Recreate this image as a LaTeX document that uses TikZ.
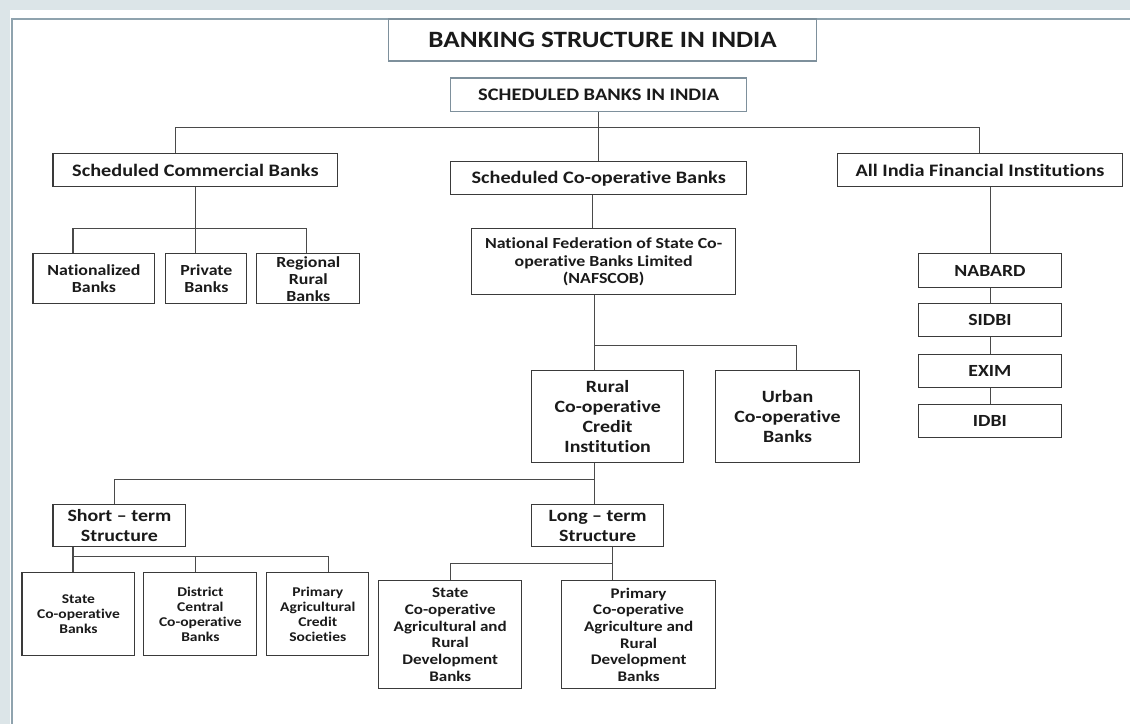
\documentclass[tikz,border=0pt]{standalone}
\usepackage{fontspec}
\setmainfont{Carlito}[FakeStretch=1.16, Ligatures=NoCommon]
\definecolor{bgc}{HTML}{DCE5E8}
\definecolor{framec}{HTML}{8FA3AE}
\definecolor{titlec}{HTML}{7E909C}
\definecolor{boxc}{HTML}{3A3A3A}
\definecolor{linec}{HTML}{4A4A4A}
\definecolor{txt}{HTML}{1A1A1A}
\newcommand\fsz[2]{\fontsize{#1}{#2}\selectfont}
\begin{document}
\begin{tikzpicture}[x=1pt,y=-1pt,
  box/.style={draw=boxc, line width=1.1pt, fill=white, inner sep=0pt, align=center, text=txt},
  ln/.style={draw=linec, line width=1.1pt},
  ftitle/.style={font=\bfseries\fsz{23.4}{27}},
  fmain/.style={font=\bfseries\fsz{17.5}{21}},
  fsbi/.style={font=\bfseries\fsz{17.6}{20}},
  fnaf/.style={font=\bfseries\fsz{15.4}{17.7}},
  fmid/.style={font=\bfseries\fsz{15.4}{17}},
  fbig/.style={font=\bfseries\fsz{17.2}{20}},
  fsmall/.style={font=\bfseries\fsz{13.4}{15}},
  fardb/.style={font=\bfseries\fsz{14.7}{16.7}},
  fright/.style={font=\bfseries\fsz{17}{20}}
]
\fill[bgc] (0,0) rectangle (1131,724);
\fill[white] (10,10) rectangle (1131,724);
\draw[framec, line width=1.3pt] (12,724) -- (12,19) -- (1131,19);
\useasboundingbox (0,0) rectangle (1131,724);

% nodes
\node[box, draw=titlec, ftitle, minimum width=428pt, minimum height=42pt] (title) at (603,40) {BANKING STRUCTURE IN INDIA};
\node[box, draw=titlec, fsbi, minimum width=296pt, minimum height=34pt] (sbi) at (599,95) {SCHEDULED BANKS IN INDIA};
\node[box, fmain, minimum width=285pt, minimum height=33pt] (scb) at (195.5,170.5) {Scheduled Commercial Banks};
\node[box, fmain, minimum width=296pt, minimum height=33pt] (scob) at (599,178.5) {Scheduled Co-operative Banks};
\node[box, fmain, minimum width=285pt, minimum height=33pt] (aifi) at (980.5,170.5) {All India Financial Institutions};

\node[box, fmid, minimum width=122pt, minimum height=50pt] (nat) at (94,279) {Nationalized\\Banks};
\node[box, fmid, minimum width=81pt, minimum height=50pt] (pvt) at (206.5,279) {Private\\Banks};
\node[box, fmid, minimum width=103pt, minimum height=50pt] (rrb) at (308.5,279) {Regional\\Rural\\Banks};

\node[box, fnaf, minimum width=264pt, minimum height=66pt] (naf) at (604,262) {National Federation of State Co-\\operative Banks Limited\\(NAFSCOB)};
\node[box, fbig, minimum width=152pt, minimum height=92pt] (rural) at (608,417) {Rural\\Co-operative\\Credit\\Institution};
\node[box, fbig, minimum width=144pt, minimum height=92pt] (urban) at (788,417) {Urban\\Co-operative\\Banks};

\node[box, fbig, minimum width=133pt, minimum height=42pt] (st) at (119.5,526) {Short -- term\\Structure};
\node[box, fbig, minimum width=132pt, minimum height=42pt] (lt) at (598,526) {Long -- term\\Structure};

\node[box, fsmall, minimum width=113pt, minimum height=83pt] (scbk) at (78.5,614.5) {State\\Co-operative\\Banks};
\node[box, fsmall, minimum width=113pt, minimum height=83pt] (dccb) at (200.5,614.5) {District\\Central\\Co-operative\\Banks};
\node[box, fsmall, minimum width=102pt, minimum height=83pt] (pacs) at (318,614.5) {Primary\\Agricultural\\Credit\\Societies};

\node[box, fardb, minimum width=143pt, minimum height=108pt] (scardb) at (450.5,635) {State\\Co-operative\\Agricultural and\\Rural\\Development\\Banks};
\node[box, fardb, minimum width=154pt, minimum height=108pt] (pcardb) at (639,635) {Primary\\Co-operative\\Agriculture and\\Rural\\Development\\Banks};

\node[box, fright, minimum width=143pt, minimum height=34pt] (nabard) at (990.5,271) {NABARD};
\node[box, fright, minimum width=143pt, minimum height=33pt] (sidbi) at (990.5,320.5) {SIDBI};
\node[box, fright, minimum width=143pt, minimum height=33pt] (exim) at (990.5,371.5) {EXIM};
\node[box, fright, minimum width=143pt, minimum height=33pt] (idbi) at (990.5,421.5) {IDBI};

% junction coordinates
\coordinate (b1) at (176,128);
\coordinate (b2) at (980,128);
\coordinate (c1) at (73,229);
\coordinate (c2) at (196,229);
\coordinate (c3) at (307,229);
\coordinate (n1) at (593,0);
\coordinate (r1) at (595,346);
\coordinate (r2) at (797,346);
\coordinate (s1) at (115,480);
\coordinate (s2) at (595,480);
\coordinate (d1) at (73,557);
\coordinate (d2) at (196,557);
\coordinate (d3) at (329,557);
\coordinate (l1) at (451,564);
\coordinate (l2) at (613,564);
\coordinate (a1) at (991,0);

% connectors
\draw[ln] (sbi.south) -- (scob.north);
\draw[ln] (scb.north -| b1) -- (b1) -- (b2) -- (aifi.north -| b2);

\draw[ln] (scb.south -| c2) -- (c2);
\draw[ln] (nat.north -| c1) -- (c1) -- (c3) -- (rrb.north -| c3);
\draw[ln] (c2) -- (pvt.north -| c2);

\draw[ln] (scob.south -| n1) -- (naf.north -| n1);
\draw[ln] (naf.south -| r1) -- (rural.north -| r1);
\draw[ln] (r1) -- (r2) -- (urban.north -| r2);

\draw[ln] (rural.south -| s2) -- (lt.north -| s2);
\draw[ln] (st.north -| s1) -- (s1) -- (s2);

\draw[ln] (st.south -| d1) -- (scbk.north -| d1);
\draw[ln] (d1) -- (d3) -- (pacs.north -| d3);
\draw[ln] (d2) -- (dccb.north -| d2);

\draw[ln] (lt.south -| l2) -- (pcardb.north -| l2);
\draw[ln] (l2) -- (l1) -- (scardb.north -| l1);

\draw[ln] (aifi.south -| a1) -- (nabard.north -| a1);
\draw[ln] (nabard.south -| a1) -- (sidbi.north -| a1);
\draw[ln] (sidbi.south -| a1) -- (exim.north -| a1);
\draw[ln] (exim.south -| a1) -- (idbi.north -| a1);
\end{tikzpicture}
\end{document}
